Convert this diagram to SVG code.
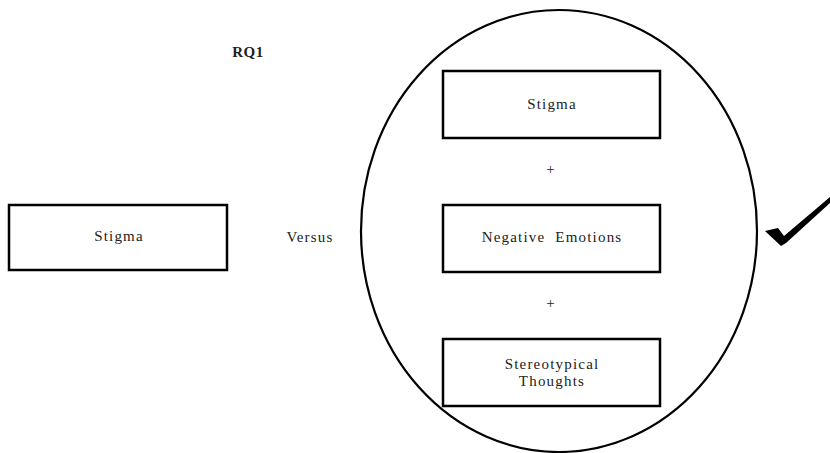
<svg xmlns="http://www.w3.org/2000/svg" width="830" height="453" viewBox="0 0 830 453">
<style>
.box{fill:#fff;stroke:#000;stroke-width:2.5}
.t{font-family:"Liberation Serif","DejaVu Serif",serif;font-size:15px;letter-spacing:1.2px;fill:#222;text-anchor:middle}
</style>
<rect width="830" height="453" fill="#fff"/>
<text class="t" x="248" y="57" style="font-weight:bold;letter-spacing:0.5px">RQ1</text>
<g id="connectors">
<ellipse cx="559" cy="231" rx="198" ry="221" fill="none" stroke="#000" stroke-width="2.2"/>
</g>
<g id="stigma-left">
<rect class="box" x="9" y="205" width="218" height="65"/>
<text class="t" x="119" y="241">Stigma</text>
</g>
<g id="versus"><text class="t" x="310" y="242">Versus</text></g>
<g id="stigma">
<rect class="box" x="443" y="71" width="217" height="67"/>
<text class="t" x="552" y="109">Stigma</text>
</g>
<g id="plus1"><text class="t" x="551" y="174">+</text></g>
<g id="neg">
<rect class="box" x="443" y="205" width="217" height="67"/>
<text class="t" x="552" y="242" xml:space="preserve">Negative  Emotions</text>
</g>
<g id="plus2"><text class="t" x="551" y="308">+</text></g>
<g id="stereo">
<rect class="box" x="443" y="339" width="217" height="67"/>
<text class="t" x="552" y="369">Stereotypical</text>
<text class="t" x="552" y="386">Thoughts</text>
</g>
<g id="check">
<path d="M765,231 L778,228 L784,236 L830,197 L830,203 L786,243 L781,246 Z" fill="#000"/>
</g>
</svg>
